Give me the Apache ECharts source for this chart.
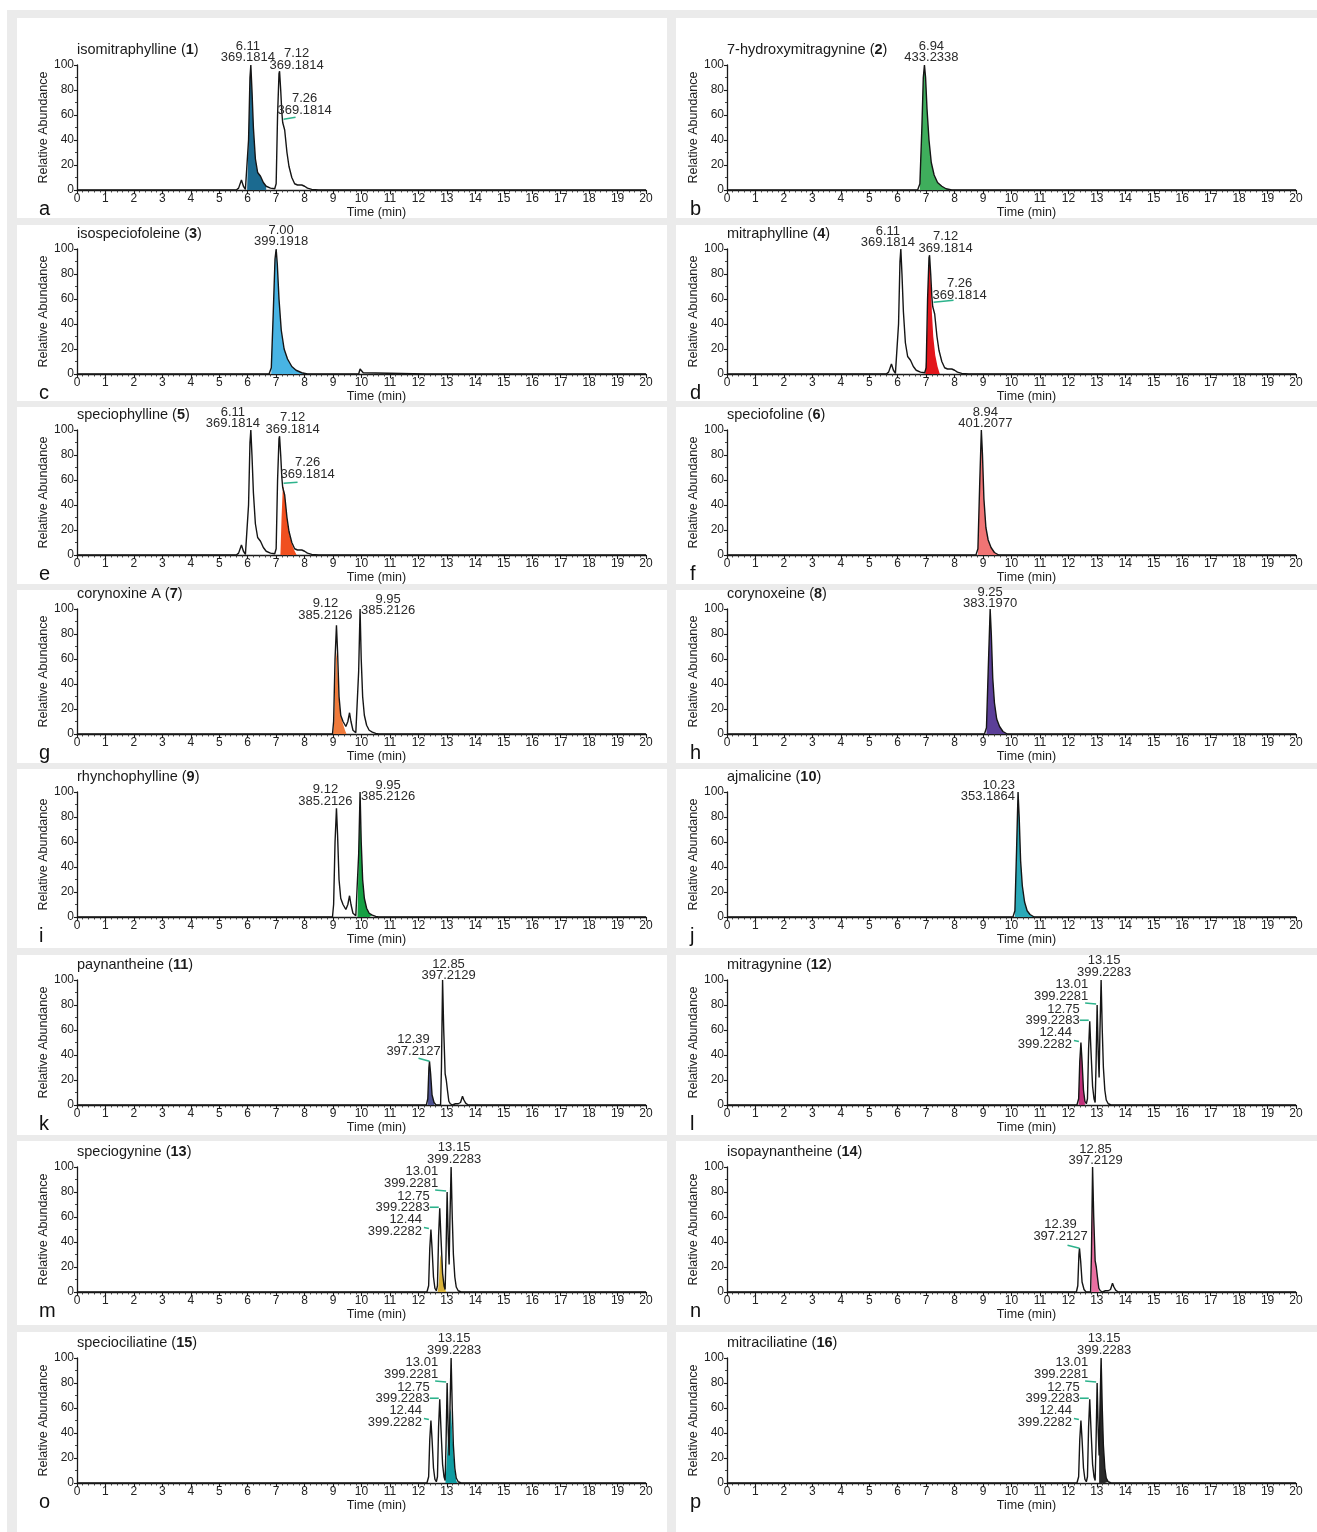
<!DOCTYPE html>
<html><head><meta charset="utf-8">
<script src="https://cdn.jsdelivr.net/npm/echarts@6/dist/echarts.min.js"></script>
<style>
html,body{margin:0;padding:0;background:#fff;}
#bg{position:absolute;left:7px;top:10px;width:1310px;height:1522px;background:#ebebeb;}
.pn{position:absolute;background:#fff;}
#c{position:absolute;left:0;top:0;width:1317px;height:1532px;}
</style>
</head><body>
<div id="bg"></div>
<div id="c"></div>
<script>
// ---------------- data ----------------
const panelLetters = ['a','b','c','d','e','f','g','h','i','j','k','l','m','n','o','p'];
const compoundNames = ['isomitraphylline','7-hydroxymitragynine','isospeciofoleine','mitraphylline','speciophylline','speciofoline','corynoxine A','corynoxeine','rhynchophylline','ajmalicine','paynantheine','mitragynine','speciogynine','isopaynantheine','speciociliatine','mitraciliatine'];
const compoundNumbers = [1,2,3,4,5,6,7,8,9,10,11,12,13,14,15,16];
const fillColors = ['#1b6a90','#3fae5c','#48b4e4','#e3161c','#f04f1f','#f07474','#f07b3c','#5b3f98','#15a043','#2aa9b8','#4d5191','#c0307a','#d8b23a','#ea6fa1','#0f9ca2','#2a2a2a'];

// extracted ion chromatograms [time (min), relative abundance]
const trace369 = [[0,0],[5.6,0],[5.68,1.5],[5.78,8],[5.85,3],[5.92,0.5],[5.98,2],[6.03,40],[6.08,90],[6.11,100],[6.15,80],[6.2,50],[6.27,25],[6.35,14],[6.45,11],[6.55,6],[6.65,3],[6.8,1.5],[6.95,1],[7.0,5],[7.05,60],[7.1,93],[7.12,95],[7.16,80],[7.2,62],[7.23,54],[7.26,55],[7.3,48],[7.38,30],[7.45,19],[7.55,10],[7.65,5],[7.75,4],[7.9,4],[8.0,3],[8.1,1.5],[8.25,0.5],[8.5,0],[10.85,0],[10.9,1],[10.95,0],[20,0]];
const trace433 = [[0,0],[6.7,0],[6.78,5],[6.85,50],[6.9,90],[6.94,100],[6.98,90],[7.03,65],[7.1,40],[7.18,22],[7.28,12],[7.4,6],[7.55,3],[7.7,1],[7.9,0],[20,0]];
const trace399a = [[0,0],[6.75,0],[6.83,5],[6.9,50],[6.96,92],[7.0,100],[7.04,88],[7.1,60],[7.18,35],[7.28,20],[7.4,12],[7.55,6],[7.7,3],[7.9,1],[8.1,0],[9.9,0],[9.95,4],[10.0,5],[10.06,1],[10.12,0],[12.25,0],[12.3,1],[12.35,0],[20,0]];
const trace401 = [[0,0],[8.75,0],[8.82,5],[8.88,55],[8.94,100],[8.98,80],[9.03,45],[9.1,22],[9.18,12],[9.28,6],[9.4,2],[9.55,0],[10.95,0],[11.0,1],[11.05,0],[20,0]];
const trace385 = [[0,0],[8.98,0],[9.02,10],[9.07,60],[9.12,87],[9.16,65],[9.21,30],[9.27,15],[9.35,10],[9.45,6],[9.52,10],[9.58,17],[9.63,10],[9.7,3],[9.8,1],[9.86,2],[9.9,50],[9.95,100],[9.99,60],[10.04,30],[10.1,15],[10.18,7],[10.27,3],[10.38,1.5],[10.5,0.5],[10.6,0],[10.85,0],[10.9,1],[10.95,0],[20,0]];
const trace383 = [[0,0],[8.35,0],[8.4,1],[8.45,0],[9.05,0],[9.12,5],[9.18,50],[9.25,100],[9.29,80],[9.34,45],[9.4,25],[9.48,12],[9.58,6],[9.7,2],[9.85,0],[20,0]];
const trace353 = [[0,0],[10.05,0],[10.12,5],[10.18,55],[10.23,100],[10.27,80],[10.32,45],[10.38,25],[10.46,12],[10.55,5],[10.65,2],[10.8,0],[20,0]];
const trace397 = [[0,0],[12.28,0],[12.33,5],[12.37,30],[12.39,35],[12.43,25],[12.48,8],[12.55,2],[12.62,0],[12.78,0],[12.81,30],[12.85,100],[12.89,60],[12.94,25],[12.98,20],[13.02,12],[13.07,3],[13.12,1],[13.2,0],[13.3,1],[13.35,2.5],[13.4,1],[13.48,2],[13.55,7],[13.6,4],[13.66,1.5],[13.75,0],[20,0]];
const trace399b = [[0,0],[12.3,0],[12.36,5],[12.4,35],[12.44,50],[12.48,35],[12.53,12],[12.58,3],[12.63,1],[12.67,5],[12.71,45],[12.75,67],[12.79,45],[12.85,15],[12.9,5],[12.94,2],[12.97,30],[13.01,80],[13.05,40],[13.08,22],[13.11,60],[13.15,100],[13.19,60],[13.23,30],[13.28,12],[13.33,4],[13.4,1],[13.5,0],[20,0]];

// compound-specific filled peaks read separately
const fillD = [[6.97,0],[7.02,20],[7.07,75],[7.12,95],[7.16,75],[7.2,50],[7.25,30],[7.32,15],[7.4,6],[7.48,0]];
const fillE = [[7.15,0],[7.19,30],[7.23,52],[7.26,55],[7.3,48],[7.38,30],[7.45,18],[7.55,9],[7.63,4],[7.72,0]];
const fillG = [[9.0,0],[9.04,10],[9.08,45],[9.11,66],[9.14,60],[9.2,30],[9.27,15],[9.35,8],[9.42,3],[9.47,0]];
const fillM = [[12.68,0],[12.72,8],[12.77,30],[12.82,25],[12.88,10],[12.94,2],[12.98,0]];
const fillO = [[12.95,0],[13.0,20],[13.05,40],[13.1,55],[13.14,60],[13.18,45],[13.23,25],[13.28,10],[13.33,2],[13.37,0]];

const panelTraces = [trace369,trace433,trace399a,trace369,trace369,trace401,trace385,trace383,trace385,trace353,trace397,trace399b,trace399b,trace397,trace399b,trace399b];
// filled peak: time window of the trace, or its own array
const panelFills = [
  {range:[5.97,6.66]}, {range:[6.75,7.9]}, {range:[6.8,8.1]}, {data:fillD},
  {data:fillE}, {range:[8.8,9.55]}, {data:fillG}, {range:[9.1,9.85]},
  {range:[9.86,10.4]}, {range:[10.1,10.8]}, {range:[12.32,12.56]}, {range:[12.34,12.6]},
  {data:fillM}, {range:[12.8,13.08]}, {data:fillO}, {range:[13.06,13.45]}
];

// peak annotations: [retention time, m/z]
const labA = [[6.11,'369.1814'],[7.12,'369.1814'],[7.26,'369.1814']];
const labGI = [[9.12,'385.2126'],[9.95,'385.2126']];
const labKN = [[12.39,'397.2127'],[12.85,'397.2129']];
const labLMOP = [[12.44,'399.2282'],[12.75,'399.2283'],[13.01,'399.2281'],[13.15,'399.2283']];
const panelLabels = [labA,[[6.94,'433.2338']],[[7.00,'399.1918']],labA,labA,[[8.94,'401.2077']],labGI,[[9.25,'383.1970']],labGI,[[10.23,'353.1864']],labKN,labLMOP,labLMOP,labKN,labLMOP,labLMOP];

// ---------------- layout / style ----------------
const FONT = '"Liberation Sans", Arial, Helvetica, sans-serif';
const colX = [77, 727];
const plotW = [569, 569];
const plotH = 125;
const rowTop = [65, 249, 430, 609, 792, 980, 1167, 1358];
const panelRows = [[18,218],[225,401],[407,584],[590,763],[769,948],[955,1135],[1141,1325],[1332,1532]];
const panelCols = [[17,667],[676,1317]];

const layA = [{dx:-3,dy:-1.5},{dx:17,dy:-0.5},{dx:21,dy:-5.5,conn:[0,-2,12,-4]}];
const layD = [{dx:-13,dy:-0.5},{dx:16,dy:-1.5},{dx:26,dy:-4.5,conn:[0,-3,20,-5]}];
const layE = [{dx:-18,dy:-0.5},{dx:13,dy:-1.5},{dx:24,dy:-6.5,conn:[0,-3,14,-4]}];
const layStack = [{dx:-9,dy:7.5,align:'right',conn:[-2,-1,-7,-2]},{dx:-10,dy:5,align:'right',conn:[-1,-1,-10,-1]},{dx:-9,dy:-3,align:'right',conn:[-1,-1,-12,-2]},{dx:3,dy:-2}];
const panelLayouts = [
  layA, [{dx:7,dy:-1.5}], [{dx:5,dy:-1.5}], layD,
  layE, [{dx:4,dy:-0.5}], [{dx:-11,dy:-4.5},{dx:28,dy:7.5}], [{dx:0,dy:0.5}],
  [{dx:-11,dy:-1.5},{dx:28,dy:10.5}], [{dx:-3,dy:10.5,align:'right'}], [{dx:-16,dy:-4.5,conn:[0,0,-11,-3]},{dx:6,dy:1.5}], layStack,
  layStack, [{dx:-19,dy:-6.5,conn:[0,0,-12,-3]},{dx:3,dy:-0.5}], layStack, layStack
];

// background panels
const bg = document.getElementById('bg');
panelRows.forEach(r => panelCols.forEach(c => {
  const d = document.createElement('div');
  d.className = 'pn';
  d.style.left = (c[0]-7)+'px'; d.style.top = (r[0]-10)+'px';
  d.style.width = (c[1]-c[0])+'px'; d.style.height = (r[1]-r[0])+'px';
  bg.appendChild(d);
}));

function peakHeight(trace, rt){
  let best = trace[0];
  trace.forEach(p => { if (Math.abs(p[0]-rt) < Math.abs(best[0]-rt)) best = p; });
  return best[1];
}

const option = {animation:false, backgroundColor:'transparent', grid:[], xAxis:[], yAxis:[], series:[], title:[], graphic:[]};
const axisColor = '#1a1a1a';
for (let i = 0; i < 16; i++) {
  const col = i % 2, row = Math.floor(i / 2);
  const left = colX[col], top = rowTop[row];
  option.grid.push({left:left, top:top, width:plotW[col], height:plotH, containLabel:false, outerBoundsMode:'none'});
  option.xAxis.push({
    type:'value', gridIndex:i, min:0, max:20, interval:1,
    axisLine:{show:true, lineStyle:{color:axisColor, width:1.3}},
    axisTick:{show:true, length:4, lineStyle:{color:axisColor, width:1.1}},
    minorTick:{show:true, splitNumber:5, length:2.5, lineStyle:{color:'#333', width:0.9}},
    axisLabel:{margin:3, fontSize:12, color:'#222', fontFamily:FONT, showMinLabel:true, showMaxLabel:true},
    splitLine:{show:false}, minorSplitLine:{show:false},
    name:'Time (min)', nameLocation:'middle', nameGap:14,
    nameTextStyle:{fontSize:12.5, color:'#222', fontFamily:FONT, padding:[0,0,0,30]}
  });
  option.yAxis.push({
    type:'value', gridIndex:i, min:0, max:100, interval:20,
    axisLine:{show:true, lineStyle:{color:axisColor, width:1.3}},
    axisTick:{show:true, length:3, lineStyle:{color:axisColor, width:1.1}},
    minorTick:{show:true, splitNumber:2, length:2, lineStyle:{color:'#333', width:0.9}},
    axisLabel:{margin:3, fontSize:12, color:'#222', fontFamily:FONT},
    splitLine:{show:false},
    name:'Relative Abundance', nameLocation:'middle', nameGap:23, nameRotate:90,
    nameTextStyle:{fontSize:12.5, color:'#222', fontFamily:FONT}
  });
  option.title.push({
    left:left, top:top-23, padding:0,
    text: compoundNames[i] + ' ({b|' + compoundNumbers[i] + '})',
    textStyle:{fontSize:14.5, fontWeight:'normal', color:'#1a1a1a', fontFamily:FONT,
      rich:{b:{fontSize:14.5, fontWeight:'bold', color:'#1a1a1a', fontFamily:FONT}}}
  });
  option.graphic.push({
    type:'text', left: col === 0 ? 39 : 690, top: top + plotH + 9,
    style:{text: panelLetters[i], font:'20px ' + FONT, fill:'#111'}
  });

  const trace = panelTraces[i];
  const f = panelFills[i];
  const fillData = f.data ? f.data : trace.filter(p => p[0] >= f.range[0] && p[0] <= f.range[1]);
  option.series.push({
    type:'line', xAxisIndex:i, yAxisIndex:i, data:fillData, symbol:'none', showSymbol:false,
    lineStyle:{width:0}, areaStyle:{color:fillColors[i], opacity:1}, silent:true, z:2
  });
  option.series.push({
    type:'line', xAxisIndex:i, yAxisIndex:i, data:trace, symbol:'none', showSymbol:false,
    lineStyle:{color:'#151515', width:1.4}, silent:true, z:3
  });
  const labs = panelLabels[i], lays = panelLayouts[i];
  option.series.push({
    type:'custom', coordinateSystem:'cartesian2d', xAxisIndex:i, yAxisIndex:i, silent:true, z:4, clip:false,
    data: labs.map(l => [l[0], peakHeight(trace, l[0])]),
    renderItem: (function(labs, lays){
      return function(params, api){
        const k = params.dataIndex;
        const lay = lays[k];
        const p = api.coord([api.value(0), api.value(1)]);
        const al = lay.align || 'center';
        const txt = labs[k][0].toFixed(2) + '\n' + labs[k][1];
        const children = [];
        if (lay.conn) {
          children.push({type:'line', shape:{x1:p[0]+lay.conn[0], y1:p[1]+lay.conn[1], x2:p[0]+lay.conn[2], y2:p[1]+lay.conn[3]},
            style:{stroke:'#2db38c', lineWidth:1.6}});
        }
        children.push({type:'text', x:p[0]+lay.dx, y:p[1]+lay.dy,
          style:{text:txt, font:'13px ' + FONT, fill:'#2a2a2a', textFill:'#2a2a2a',
            align:al, textAlign:al, verticalAlign:'bottom', textVerticalAlign:'bottom', lineHeight:11.5}});
        return {type:'group', children:children};
      };
    })(labs, lays)
  });
}

const chart = echarts.init(document.getElementById('c'), null, {renderer:'canvas', width:1317, height:1532});
chart.setOption(option);
</script>
</body></html>
